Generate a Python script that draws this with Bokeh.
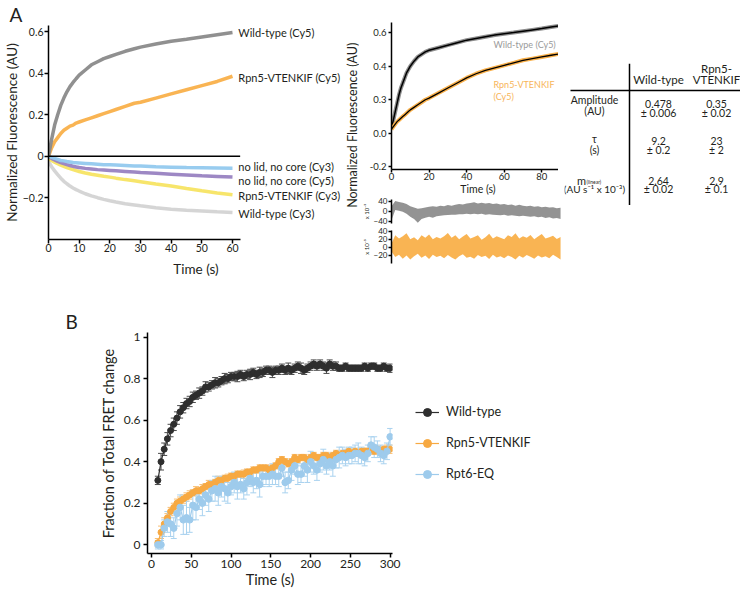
from math import pi
from bokeh.plotting import figure
from bokeh.models import (Range1d, FixedTicker, Legend, LegendItem, Whisker,
                          TeeHead, ColumnDataSource)
from bokeh.layouts import row, column
from bokeh.embed import file_html
from bokeh.resources import INLINE
from bokeh.core.properties import value

FONT = "Lato"
TXT = "#231f20"

# ---------------- Panel A (left): normalized fluorescence traces ----------------
a_time = [0, 1, 2, 3, 4, 5, 6, 7, 8, 9, 10, 12, 14, 16, 18, 20, 22, 25, 28, 30, 35, 40, 45, 50, 55, 60]
a_wt_cy5 = [0.00, 0.08, 0.15, 0.20, 0.245, 0.28, 0.31, 0.335, 0.355, 0.373, 0.39, 0.415, 0.44, 0.455,
            0.47, 0.48, 0.49, 0.505, 0.517, 0.525, 0.54, 0.553, 0.563, 0.574, 0.585, 0.595]
a_rpn5_cy5 = [0.00, 0.04, 0.07, 0.09, 0.11, 0.125, 0.135, 0.145, 0.15, 0.16, 0.165, 0.175, 0.185, 0.195,
              0.205, 0.215, 0.225, 0.24, 0.255, 0.26, 0.28, 0.30, 0.32, 0.34, 0.36, 0.385]
a_nolid_cy3 = [0, -0.005, -0.01, -0.015, -0.02, -0.022, -0.025, -0.027, -0.03, -0.031, -0.032, -0.034,
               -0.036, -0.038, -0.04, -0.041, -0.042, -0.044, -0.046, -0.047, -0.05, -0.052, -0.054,
               -0.055, -0.056, -0.057]
a_nolid_cy5 = [0, -0.01, -0.017, -0.024, -0.03, -0.035, -0.04, -0.044, -0.048, -0.051, -0.054, -0.058,
               -0.061, -0.064, -0.066, -0.068, -0.07, -0.073, -0.076, -0.078, -0.082, -0.086, -0.09,
               -0.094, -0.097, -0.10]
a_rpn5_cy3 = [-0.01, -0.02, -0.028, -0.035, -0.042, -0.048, -0.054, -0.059, -0.064, -0.069, -0.073, -0.08,
              -0.086, -0.091, -0.096, -0.10, -0.105, -0.112, -0.118, -0.122, -0.133, -0.143, -0.155,
              -0.166, -0.176, -0.185]
a_wt_cy3 = [-0.025, -0.05, -0.07, -0.088, -0.105, -0.12, -0.132, -0.143, -0.152, -0.16, -0.167, -0.18,
            -0.19, -0.199, -0.207, -0.214, -0.22, -0.228, -0.234, -0.238, -0.247, -0.254, -0.259,
            -0.263, -0.267, -0.27]
a_labels = ["Wild-type (Cy5)", "Rpn5-VTENKIF (Cy5)", "no lid, no core (Cy3)",
            "no lid, no core (Cy5)", "Rpn5-VTENKIF (Cy3)", "Wild-type (Cy3)"]
a_label_y = [0.595, 0.381, -0.048, -0.114, -0.190, -0.276]
a_xticks = [0, 10, 20, 30, 40, 50, 60]
a_yticks = [-0.2, 0, 0.2, 0.4, 0.6]

# ---------------- Panel A (middle): fits and residuals ----------------
m_time = [0, 1, 2, 3, 4, 5, 6, 7, 8, 9, 10, 12, 14, 16, 18, 20, 25, 30, 35, 40, 45, 50, 55, 60, 65, 70,
          75, 80, 85, 90]
m_wt = [0.03, 0.08, 0.13, 0.18, 0.23, 0.27, 0.30, 0.33, 0.36, 0.38, 0.40, 0.43, 0.455, 0.47, 0.485,
        0.495, 0.51, 0.525, 0.54, 0.555, 0.565, 0.575, 0.585, 0.593, 0.60, 0.608, 0.616, 0.624, 0.633, 0.642]
m_rpn5 = [0.025, 0.04, 0.055, 0.07, 0.08, 0.09, 0.10, 0.11, 0.12, 0.13, 0.14, 0.155, 0.17, 0.185, 0.20,
          0.21, 0.24, 0.27, 0.30, 0.33, 0.355, 0.375, 0.39, 0.405, 0.42, 0.435, 0.445, 0.455, 0.465, 0.475]
m_xticks = [0, 20, 40, 60, 80]
m_yticks = [-0.2, 0, 0.2, 0.4, 0.6]
m_ytick_text = {-0.2: "-0.2", 0: "0.0", 0.2: "0.3", 0.4: "0.4", 0.6: "0.6"}

r_time = [0, 2, 4, 6, 8, 10, 12, 14, 16, 18, 20, 22, 24, 26, 28, 30, 32, 34, 36, 38, 40, 42, 44, 46,
          48, 50, 52, 54, 56, 58, 60, 62, 64, 66, 68, 70, 72, 74, 76, 78, 80, 82, 84, 86, 88, 90]
r_wt_hi = [20, 40, 36, 33, 28, 20, 15, 10, 12, 15, 18, 20, 18, 22, 20, 24, 22, 25, 28, 26, 30, 32, 35,
           30, 33, 30, 32, 28, 30, 26, 28, 24, 26, 22, 25, 22, 20, 22, 18, 20, 16, 18, 15, 16, 12, 14]
r_wt_lo = [-35, 5, 2, -2, -10, -22, -30, -45, -30, -25, -22, -25, -20, -18, -16, -15, -14, -14, -12,
           -12, -10, -12, -10, -12, -10, -14, -12, -14, -15, -16, -14, -18, -16, -18, -20, -18, -20,
           -22, -20, -24, -22, -26, -24, -28, -26, -30]
r_rpn5_hi = [10, 30, 22, 28, 35, 20, 25, 18, 30, 24, 32, 20, 26, 22, 28, 36, 24, 30, 20, 27, 33, 22,
             26, 30, 19, 25, 34, 22, 28, 24, 20, 30, 26, 35, 22, 28, 24, 31, 20, 27, 33, 22, 25, 29, 21, 26]
r_rpn5_lo = [-10, -24, -18, -28, -20, -30, -22, -16, -26, -20, -29, -18, -24, -21, -27, -19, -25, -30,
             -22, -17, -26, -23, -28, -19, -24, -21, -29, -18, -25, -22, -27, -20, -24, -30, -21, -26,
             -19, -23, -28, -20, -25, -22, -27, -18, -24, -30]

# ---------------- Panel A (right): fit parameters table ----------------
tbl_headers = [["Wild-type"], ["Rpn5-", "VTENKIF"]]
tbl_row_names = [["Amplitude", "(AU)"], ["τ", "(s)"], ["m", "(AU s⁻¹ x 10⁻³)"]]
tbl_wt_val = ["0.478", "9.2", "2.64"]
tbl_wt_err = ["± 0.006", "± 0.2", "± 0.02"]
tbl_rpn5_val = ["0.35", "23", "2.9"]
tbl_rpn5_err = ["± 0.02", "± 2", "± 0.1"]

# ---------------- Panel B: fraction of total FRET change ----------------
b_time = [8, 12, 16, 20, 24, 28, 32, 36, 40, 44, 48, 52, 56, 60, 64, 68, 72, 76, 80, 84, 88, 92, 96,
          100, 104, 108, 112, 116, 120, 124, 128, 132, 136, 140, 144, 148, 152, 156, 160, 164, 168,
          172, 176, 180, 184, 188, 192, 196, 200, 204, 208, 212, 216, 220, 224, 228, 232, 236, 240,
          244, 248, 252, 256, 260, 264, 268, 272, 276, 280, 284, 288, 292, 296, 300]
b_wt = [0.31, 0.40, 0.46, 0.51, 0.55, 0.58, 0.61, 0.64, 0.66, 0.68,
        0.69, 0.71, 0.72, 0.73, 0.74, 0.76, 0.76, 0.77, 0.78, 0.78,
        0.79, 0.80, 0.80, 0.81, 0.81, 0.81, 0.82, 0.81, 0.82, 0.82,
        0.83, 0.82, 0.83, 0.83, 0.84, 0.84, 0.83, 0.84, 0.84, 0.85,
        0.84, 0.85, 0.84, 0.85, 0.86, 0.85, 0.84, 0.85, 0.86, 0.87,
        0.86, 0.87, 0.86, 0.85, 0.87, 0.86, 0.86, 0.85, 0.85, 0.86,
        0.85, 0.85, 0.85, 0.85, 0.85, 0.86, 0.85, 0.86, 0.86, 0.85,
        0.85, 0.86, 0.85, 0.85]
b_wt_err = [0.02, 0.04, 0.03, 0.03, 0.03, 0.03, 0.03, 0.03, 0.025, 0.025,
            0.025, 0.025, 0.02, 0.025, 0.02, 0.025, 0.02, 0.02, 0.025, 0.02,
            0.02, 0.025, 0.02, 0.02, 0.02, 0.025, 0.02, 0.02, 0.02, 0.025,
            0.02, 0.02, 0.025, 0.02, 0.02, 0.02, 0.025, 0.02, 0.02, 0.02,
            0.02, 0.025, 0.02, 0.02, 0.02, 0.025, 0.02, 0.02, 0.02, 0.02,
            0.02, 0.02, 0.02, 0.025, 0.02, 0.02, 0.02, 0.015, 0.015, 0.015,
            0.015, 0.015, 0.015, 0.015, 0.015, 0.015, 0.015, 0.015, 0.015, 0.015,
            0.015, 0.015, 0.015, 0.02]
b_rpn5 = [0.01, 0.06, 0.10, 0.13, 0.16, 0.18, 0.20, 0.21, 0.22, 0.23,
          0.24, 0.25, 0.26, 0.26, 0.27, 0.28, 0.29, 0.29, 0.30, 0.31,
          0.31, 0.32, 0.32, 0.33, 0.33, 0.34, 0.34, 0.34, 0.35, 0.35,
          0.36, 0.36, 0.37, 0.37, 0.37, 0.36, 0.37, 0.38, 0.40, 0.41,
          0.40, 0.39, 0.40, 0.42, 0.41, 0.42, 0.42, 0.41, 0.42, 0.43,
          0.42, 0.42, 0.43, 0.43, 0.42, 0.43, 0.44, 0.43, 0.44, 0.44,
          0.45, 0.44, 0.45, 0.44, 0.45, 0.45, 0.45, 0.46, 0.45, 0.46,
          0.45, 0.46, 0.46, 0.46]
b_rpn5_err = [0.02, 0.03, 0.03, 0.02, 0.02, 0.02, 0.02, 0.02, 0.02, 0.02,
              0.02, 0.015, 0.02, 0.015, 0.02, 0.015, 0.02, 0.015, 0.015, 0.02,
              0.015, 0.015, 0.02, 0.015, 0.015, 0.015, 0.015, 0.02, 0.015, 0.015,
              0.015, 0.015, 0.015, 0.015, 0.015, 0.02, 0.015, 0.015, 0.015, 0.015,
              0.015, 0.015, 0.015, 0.015, 0.015, 0.015, 0.015, 0.015, 0.015, 0.015,
              0.015, 0.015, 0.015, 0.015, 0.015, 0.015, 0.015, 0.015, 0.015, 0.015,
              0.015, 0.015, 0.015, 0.015, 0.015, 0.015, 0.015, 0.015, 0.015, 0.015,
              0.015, 0.015, 0.02, 0.02]
b_rpt6 = [0.00, 0.00, 0.08, 0.11, 0.10, 0.08, 0.15, 0.18, 0.12, 0.13,
          0.12, 0.19, 0.18, 0.22, 0.20, 0.24, 0.22, 0.26, 0.27, 0.25,
          0.28, 0.27, 0.25, 0.28, 0.30, 0.28, 0.29, 0.27, 0.30, 0.32,
          0.30, 0.31, 0.29, 0.33, 0.33, 0.33, 0.34, 0.33, 0.33, 0.37,
          0.30, 0.31, 0.36, 0.38, 0.34, 0.34, 0.38, 0.36, 0.40, 0.38,
          0.36, 0.39, 0.41, 0.38, 0.40, 0.38, 0.41, 0.42, 0.43, 0.42,
          0.43, 0.43, 0.44, 0.44, 0.43, 0.42, 0.44, 0.48, 0.47, 0.46,
          0.44, 0.43, 0.45, 0.52]
b_rpt6_err = [0.02, 0.02, 0.04, 0.05, 0.06, 0.05, 0.06, 0.06, 0.07, 0.08,
              0.06, 0.07, 0.06, 0.05, 0.06, 0.05, 0.06, 0.05, 0.06, 0.06,
              0.05, 0.06, 0.05, 0.04, 0.05, 0.06, 0.04, 0.05, 0.06, 0.04,
              0.05, 0.04, 0.06, 0.05, 0.04, 0.05, 0.05, 0.04, 0.05, 0.04,
              0.05, 0.04, 0.05, 0.04, 0.05, 0.04, 0.05, 0.06, 0.05, 0.04,
              0.05, 0.04, 0.05, 0.04, 0.04, 0.05, 0.04, 0.05, 0.04, 0.04,
              0.04, 0.04, 0.04, 0.05, 0.04, 0.04, 0.04, 0.04, 0.05, 0.04,
              0.04, 0.04, 0.04, 0.04]
b_series = ["Wild-type", "Rpn5-VTENKIF", "Rpt6-EQ"]
b_xticks = [0, 50, 100, 150, 200, 250, 300]
b_yticks = [0.0, 0.2, 0.4, 0.6, 0.8, 1.0]


def style_axes(p, tick_px, label_px, tick_out=4, lw=1.5):
    for ax in list(p.xaxis) + list(p.yaxis):
        ax.axis_line_color = "black"
        ax.axis_line_width = lw
        ax.major_tick_line_color = "black"
        ax.major_tick_line_width = lw
        ax.major_tick_in = 0
        ax.major_tick_out = tick_out
        ax.minor_tick_line_color = None
        ax.major_label_text_font = FONT
        ax.major_label_text_font_size = tick_px
        ax.major_label_text_color = TXT
        ax.axis_label_text_font = FONT
        ax.axis_label_text_font_style = "normal"
        ax.axis_label_text_font_size = label_px
        ax.axis_label_text_color = TXT
    p.xgrid.visible = False
    p.ygrid.visible = False
    p.outline_line_color = None
    p.background_fill_color = None
    p.border_fill_color = None


def panel_title(p, letter, offset):
    p.title.text = letter
    p.title.align = "left"
    p.title.offset = offset
    p.title.standoff = 0
    p.title.text_font = FONT
    p.title.text_font_style = "normal"
    p.title.text_font_size = "19px"
    p.title.text_color = TXT


def base_fig(**kw):
    return figure(output_backend="svg", toolbar_location=None, **kw)


TOP_H = 280

# ---------------- Figure A1 ----------------
A_XAXIS_END = 62.5
pA = base_fig(width=343, height=TOP_H, x_range=Range1d(0, 96.2), y_range=Range1d(-0.4, 0.629),
              min_border_left=40, min_border_right=0, min_border_top=23, min_border_bottom=41)
style_axes(pA, "10.5px", "13.5px")
panel_title(pA, "A", -39)
pA.xaxis.bounds = (0, A_XAXIS_END)
pA.xaxis.ticker = FixedTicker(ticks=a_xticks)
pA.yaxis.ticker = FixedTicker(ticks=a_yticks)
pA.yaxis.major_label_overrides = {0: "0"}
pA.xaxis.axis_label = "Time (s)"
pA.yaxis.axis_label = "Normalized Fluorescence (AU)"
pA.xaxis.major_label_standoff = 0
pA.xaxis.axis_label_standoff = 6
pA.yaxis.major_label_standoff = 1
pA.yaxis.axis_label_standoff = 0

a_series = [(a_wt_cy3, "#d3d3d3"), (a_rpn5_cy3, "#f7e463"), (a_nolid_cy5, "#9882c1"),
            (a_nolid_cy3, "#92c9ee"), (a_rpn5_cy5, "#f9b04a"), (a_wt_cy5, "#8a8a8a")]
for vals, col in a_series:
    pA.line(a_time, vals, line_color=col, line_width=3.5, line_alpha=0.95)
pA.line([0, A_XAXIS_END], [0, 0], line_color="black", line_width=1.5)
pA.text(x=[61.9] * len(a_labels), y=a_label_y, text=a_labels, text_font=value(FONT),
        text_font_size="11px", text_color=TXT, text_baseline="middle", text_align="left")

# ---------------- Shared y label for middle column ----------------
pL = base_fig(width=16, height=258, x_range=Range1d(0, 16), y_range=Range1d(0, 258),
              min_border=0, x_axis_location=None, y_axis_location=None)
pL.outline_line_color = None
pL.xgrid.visible = False
pL.ygrid.visible = False
pL.text(x=[9], y=[124], text=["Normalized Fluorescence (AU)"], angle=pi / 2,
        text_font=value(FONT), text_font_size="12.5px", text_color=TXT,
        text_align="center", text_baseline="middle")

# ---------------- Middle main plot ----------------
M_XMAX = 92.1
M_AXIS_END = 90.3
pM = base_fig(frame_width=173, frame_height=147, x_range=Range1d(0, M_XMAX), y_range=Range1d(-0.215, 0.66),
              min_border_left=26, min_border_right=0, min_border_top=22, min_border_bottom=27)
style_axes(pM, "9.5px", "10.5px", tick_out=3)
pM.xaxis.bounds = (0, M_AXIS_END)
pM.xaxis.ticker = FixedTicker(ticks=m_xticks)
pM.yaxis.ticker = FixedTicker(ticks=m_yticks)
pM.yaxis.major_label_overrides = m_ytick_text
pM.xaxis.axis_label = "Time (s)"
pM.xaxis.major_label_standoff = 0
pM.xaxis.axis_label_standoff = 0
pM.yaxis.major_label_standoff = 2
pM.line(m_time, m_wt, line_color="#8d8d8d", line_width=4)
pM.line(m_time, m_wt, line_color="black", line_width=1.5)
pM.line(m_time, m_rpn5, line_color="#f9b04a", line_width=4)
pM.line(m_time, m_rpn5, line_color="black", line_width=1.3)
pM.text(x=[54.3], y=[0.527], text=["Wild-type (Cy5)"], text_font=value(FONT), text_font_size="9px",
        text_color="#9a9a9a", text_baseline="middle", text_align="left")
pM.text(x=[54.3, 54.3], y=[0.29, 0.217], text=["Rpn5-VTENKIF", "(Cy5)"], text_font=value(FONT),
        text_font_size="9px", text_color="#f7b55a", text_baseline="middle", text_align="left")


# ---------------- Residual plots ----------------
def residual_fig(lo, hi, yr, ticks, h, top, bottom, color):
    p = base_fig(frame_width=173, frame_height=h, x_range=Range1d(0, M_XMAX), y_range=Range1d(*yr),
                 min_border_left=26, min_border_right=0, min_border_top=top, min_border_bottom=bottom,
                 x_axis_location=None)
    style_axes(p, "8px", "6px", tick_out=3)
    p.yaxis.ticker = FixedTicker(ticks=ticks)
    p.yaxis.axis_label = "x 10⁻³"
    p.yaxis.axis_label_standoff = 1
    p.yaxis.major_label_standoff = 1
    p.varea(x=r_time, y1=lo, y2=hi, fill_color=color, fill_alpha=0.95)
    return p


pR1 = residual_fig(r_wt_lo, r_wt_hi, (-48, 46), [-40, 0, 40], 24, 2, 2, "#8d8d8d")
pR2 = residual_fig(r_rpn5_lo, r_rpn5_hi, (-40, 42), [-20, 0, 20, 40], 33, 5, 4, "#f9b04a")

# ---------------- Table ----------------
pT = base_fig(width=176, height=TOP_H, x_range=Range1d(566, 742), y_range=Range1d(TOP_H, 0),
              min_border=0, x_axis_location=None, y_axis_location=None)
pT.outline_line_color = None
pT.xgrid.visible = False
pT.ygrid.visible = False
col_x = [660, 718]
label_x = 596
header_y = [[71], [56, 71]]
row_label_y = [[98, 112], [148, 163], [203, 214]]
row_val_y = [[103, 114], [151, 163], [203, 214]]
pT.segment(x0=[631, 572], y0=[50, 85], x1=[631, 742], y1=[235, 85], line_color="black", line_width=1.5)
for hx, lines, ys in zip(col_x, tbl_headers, header_y):
    pT.text(x=[hx] * len(lines), y=ys, text=lines, text_font=value(FONT), text_font_size="11.5px",
            text_color=TXT, text_align="center", text_baseline="middle")
for i, names in enumerate(tbl_row_names):
    if i == 2:
        pT.text(x=[583], y=[row_label_y[i][0]], text=[names[0]], text_font=value(FONT),
                text_font_size="11px", text_color=TXT, text_align="center", text_baseline="middle")
        pT.text(x=[588], y=[row_label_y[i][0] + 2], text=["(linear)"], text_font=value(FONT),
                text_font_size="5px", text_color=TXT, text_align="left", text_baseline="middle")
        pT.text(x=[label_x], y=[row_label_y[i][1]], text=[names[1]], text_font=value(FONT),
                text_font_size="10px", text_color=TXT, text_align="center", text_baseline="middle")
    else:
        pT.text(x=[label_x] * 2, y=row_label_y[i], text=names, text_font=value(FONT),
                text_font_size="10.5px", text_color=TXT, text_align="center", text_baseline="middle")
    pT.text(x=[col_x[0]] * 2, y=row_val_y[i], text=[tbl_wt_val[i], tbl_wt_err[i]], text_font=value(FONT),
            text_font_size="10.5px", text_color=TXT, text_align="center", text_baseline="middle")
    pT.text(x=[col_x[1]] * 2, y=row_val_y[i], text=[tbl_rpn5_val[i], tbl_rpn5_err[i]],
            text_font=value(FONT), text_font_size="10.5px", text_color=TXT, text_align="center",
            text_baseline="middle")

# ---------------- Panel B ----------------
pB = base_fig(frame_width=245, frame_height=221, x_range=Range1d(-5, 303), y_range=Range1d(-0.042, 1.022),
              min_border_left=147, min_border_right=160, min_border_top=52, min_border_bottom=37)
style_axes(pB, "12px", "14.5px")
panel_title(pB, "B", -82)
pB.xaxis.ticker = FixedTicker(ticks=b_xticks)
pB.yaxis.ticker = FixedTicker(ticks=b_yticks)
pB.xaxis.axis_label = "Time (s)"
pB.yaxis.axis_label = "Fraction of Total FRET change"
pB.xaxis.major_label_standoff = 2
pB.xaxis.axis_label_standoff = 0
pB.yaxis.major_label_standoff = 3
pB.yaxis.axis_label_standoff = 4

b_specs = [(b_wt, b_wt_err, "#2e2e2e", "#4a4a4a", 6),
           (b_rpn5, b_rpn5_err, "#f7a942", "#f8be72", 6),
           (b_rpt6, b_rpt6_err, "#9ecbec", "#a9d2ef", 6.5)]
items = []
renderers = []
for (vals, errs, col, ecol, sz) in b_specs:
    src = ColumnDataSource(dict(t=b_time, v=vals,
                                lo=[v - e for v, e in zip(vals, errs)],
                                hi=[v + e for v, e in zip(vals, errs)]))
    pB.add_layout(Whisker(source=src, base="t", upper="hi", lower="lo", line_color=ecol, line_width=1,
                          upper_head=TeeHead(size=6, line_color=ecol, line_width=1),
                          lower_head=TeeHead(size=6, line_color=ecol, line_width=1)))
    renderers.append((src, col, sz))
for (src, col, sz), name in zip(renderers, b_series):
    ln = pB.line("t", "v", source=src, line_color=col, line_width=1.2)
    sc = pB.scatter("t", "v", source=src, size=sz, fill_color=col, line_color=col)
    items.append(LegendItem(label=name, renderers=[ln, sc]))
legend = Legend(items=items, location="center_left", border_line_color=None, background_fill_alpha=0,
                label_text_font=FONT, label_text_font_size="12.5px", label_text_color=TXT,
                glyph_width=24, glyph_height=20, label_height=20, label_standoff=7, spacing=11,
                padding=0, margin=23)
pB.add_layout(legend, "right")

layout = column(row(pA, pL, column(pM, pR1, pR2), pT), pB)

with open("out.html", "w") as f:
    f.write(file_html(layout, INLINE))
